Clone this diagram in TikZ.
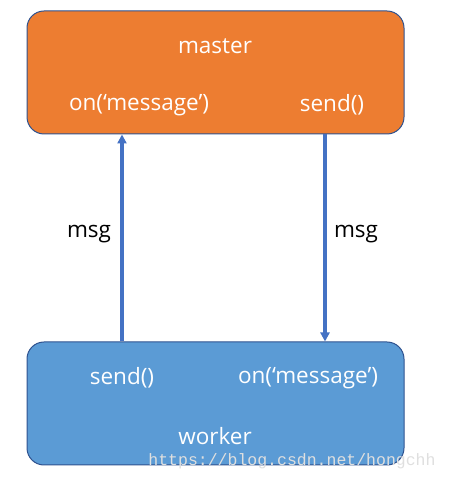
\documentclass[tikz,border=0pt]{standalone}
\usepackage{fontspec}
\setmainfont{Open Sans}
\newfontfamily\markfont{Liberation Mono}
\usetikzlibrary{arrows.meta,positioning}
\definecolor{boxorange}{HTML}{ED7D31}
\definecolor{boxblue}{HTML}{5B9BD5}
\definecolor{boxline}{HTML}{2F528F}
\definecolor{msgblue}{HTML}{4472C4}

\begin{document}
\begin{tikzpicture}[%
        x=1pt, y=1pt,
        >={Triangle[width=9pt,length=9pt]},
        procbox/.style={draw=boxline, line width=1pt, rounded corners=17pt,
            minimum width=377pt, minimum height=123pt, inner sep=0pt},
        boxtext/.style={text=white, font=\fontsize{22.5}{26}\selectfont, inner sep=0pt},
        msgtext/.style={text=black, font=\fontsize{22.5}{26}\selectfont, inner sep=0pt},
        msgline/.style={->, draw=msgblue, line width=3.2pt}
        ]
        \useasboundingbox (0,0) rectangle (449,481);

        \node[procbox, fill=boxorange] (master) at (215.5,408.5) {};
        \node[procbox, fill=boxblue] (worker) at (215.5,77.5) {};

        \node[boxtext] (mname) at (215,435) {master};
        \node[boxtext] (mon) at (139,376) {on(‘message’)};
        \node[boxtext] (msend) at (332,376) {send()};

        \node[boxtext] (wsend) at (122,103) {send()};
        \node[boxtext] (won) at (308,103) {on(‘message’)};
        \node[boxtext] (wname) at (215,45) {worker};

        \coordinate (upx) at (122,0);
        \coordinate (downx) at (325,0);

        \draw[msgline] (upx |- worker.north) -- (upx |- master.south);
        \draw[msgline] (downx |- master.south) -- (downx |- worker.north);

        \node[msgtext] (upmsg) at (89,247) {msg};
        \node[msgtext] (downmsg) at (356,247) {msg};

        \node[text=gray!25, font=\markfont\fontsize{16.5}{18}\selectfont, inner sep=0pt]
            (mark) at (292,20) {https://blog.csdn.net/hongchh};

    \end{tikzpicture}
\end{document}
